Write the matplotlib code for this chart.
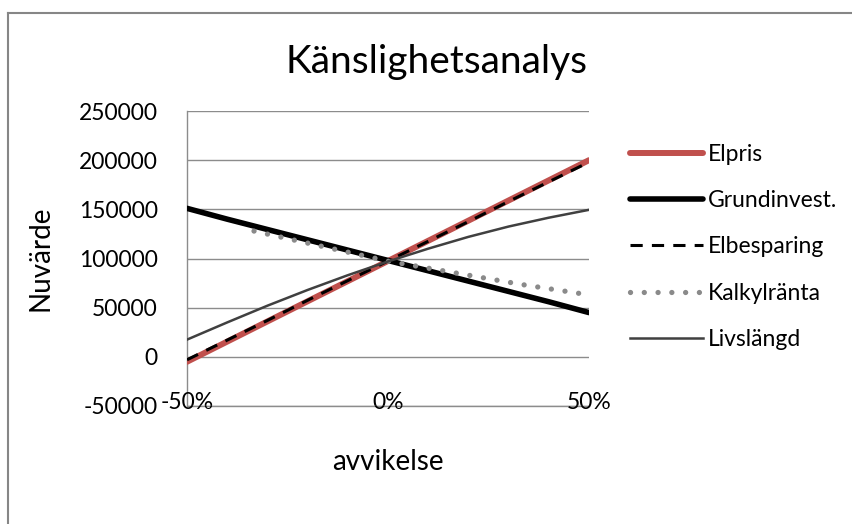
import matplotlib
matplotlib.use("Agg")
import matplotlib.pyplot as plt
from matplotlib.lines import Line2D
from matplotlib.ticker import FixedLocator

plt.rcParams["font.family"] = ["Lato", "DejaVu Sans"]

# deviation from base case (fraction) and net present value per parameter
avvikelse = [-0.5, -0.4, -0.3, -0.2, -0.1, 0.0, 0.1, 0.2, 0.3, 0.4, 0.5]
elpris = [-5000, 15500, 36000, 56500, 77000, 97500, 118000, 138500, 159000,
          179500, 200000]
grundinvest = [151000, 140000, 129500, 119000, 108500, 98000, 87500, 77000,
               66500, 56000, 45000]
elbesparing = [-3000, 17000, 37000, 57500, 77500, 97500, 117500, 137500,
               158000, 178000, 198000]
livslangd = [17500, 35000, 52000, 68000, 83000, 97000, 110000, 122000,
             132500, 141500, 149500]

kalk_avvikelse = [-1 / 3, -1 / 6, 0.0, 1 / 6, 1 / 3, 0.5]
kalkylranta = [127900, 112600, 97300, 85400, 73500, 63000]

x_ticks = [-0.5, 0.0, 0.5]
x_ticklabels = ["-50%", "0%", "50%"]
y_ticks = [-50000, 0, 50000, 100000, 150000, 200000, 250000]

fig = plt.figure(figsize=(8.53, 5.24), dpi=100)
ax = fig.add_axes([187 / 853, 1 - 406 / 524, 402 / 853, 295 / 524])

# series in drawing order
ax.plot(avvikelse, elpris, color="#C0504D", lw=4.3, solid_capstyle="round",
        label="Elpris", zorder=3)
ax.plot(avvikelse, grundinvest, color="black", lw=4.0, solid_capstyle="round",
        label="Grundinvest.", zorder=4)
ax.plot(avvikelse, elbesparing, color="black", lw=2.2, dashes=(4, 3),
        label="Elbesparing", zorder=5)
ax.plot(kalk_avvikelse, kalkylranta, color="#8A8A8A", lw=3.8,
        linestyle=(0, (0.01, 2.6)), dash_capstyle="round",
        label="Kalkylränta", zorder=6)
ax.plot(avvikelse, livslangd, color="#404040", lw=1.8, label="Livslängd",
        zorder=7)

ax.set_xlim(-0.5, 0.5)
ax.set_ylim(-50000, 250000)
ax.xaxis.set_major_locator(FixedLocator(x_ticks))
ax.set_xticklabels(x_ticklabels)
ax.set_yticks(y_ticks)
ax.set_yticklabels([str(v) for v in y_ticks])
ax.tick_params(axis="x", length=0, pad=-10, labelsize=16.5)
ax.tick_params(axis="y", length=0, pad=21, labelsize=16.5)
ax.grid(axis="y", color="#8C8C8C", lw=1.0)
ax.set_axisbelow(True)
for side in ["top", "right"]:
    ax.spines[side].set_visible(False)
for side in ["left", "bottom"]:
    ax.spines[side].set_color("#8C8C8C")
    ax.spines[side].set_linewidth(1.0)
    ax.spines[side].set_zorder(0.5)

ax.set_ylabel("Nuvärde", fontsize=20, labelpad=18)
fig.text(388 / 853, 1 - 462 / 524, "avvikelse", fontsize=20,
         ha="center", va="center")
fig.text(437 / 853, 1 - 62 / 524, "Känslighetsanalys", fontsize=28,
         ha="center", va="center")

fig.legend(loc="upper left", bbox_to_anchor=(630 / 853, 1 - 144 / 524),
           frameon=False, fontsize=16.5, handlelength=3.2, handletextpad=0.22,
           labelspacing=1.1, borderpad=0, borderaxespad=0)

# chart frame (left and top edges visible)
fig.add_artist(Line2D([8 / 853, 8 / 853], [0, 1 - 13 / 524],
                      transform=fig.transFigure, color="#868686", lw=1.5))
fig.add_artist(Line2D([8 / 853, 1], [1 - 13 / 524, 1 - 13 / 524],
                      transform=fig.transFigure, color="#868686", lw=1.5))

fig.savefig("out.png", dpi=100)
